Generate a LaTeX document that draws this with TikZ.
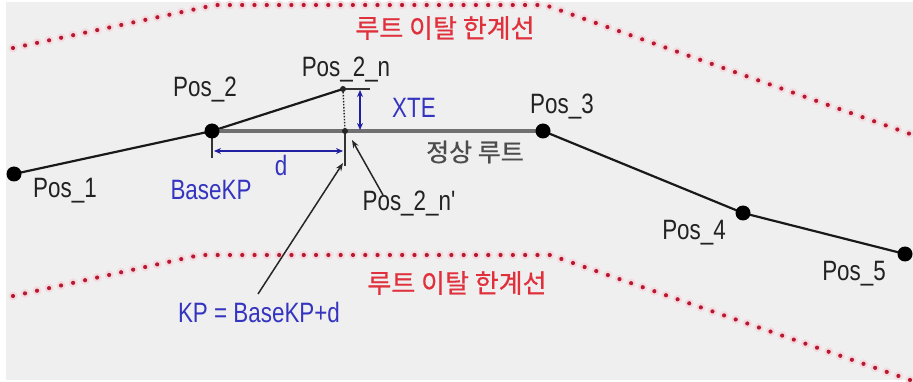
\documentclass[tikz,border=0pt]{standalone}
\usepackage{fontspec}
\newfontfamily\lat{Liberation Sans}[FakeStretch=0.8]
\newfontfamily\kr{Noto Sans CJK KR}[FakeBold=0.6]
\usetikzlibrary{arrows.meta}
\definecolor{bg}{HTML}{EFEFEF}
\definecolor{limred}{HTML}{B81830}
\definecolor{krred}{HTML}{E0303C}
\definecolor{lblue}{HTML}{3434C0}
\definecolor{ablue}{HTML}{2020A0}
\definecolor{txt}{HTML}{222222}
\definecolor{routegray}{HTML}{707070}
\tikzset{
  limitdots/.style={draw=limred, line width=4.2pt, line cap=round, dash pattern=on 0pt off 12.3pt},
  limithalo/.style={draw=limred!16, line width=9pt, line cap=round, dash pattern=on 0pt off 12.3pt},
  posdot/.style={circle, fill=black, inner sep=0pt, minimum size=15pt},
  smalldot/.style={circle, fill=black!85, inner sep=0pt, minimum size=6pt},
  route/.style={draw=black!90, line width=2.2pt},
  mainroute/.style={draw=routegray, line width=4pt},
  tick/.style={draw=black!80, line width=1.6pt},
  bluearrow/.style={draw=ablue, line width=1.5pt, {Stealth[length=7pt,width=6pt]}-{Stealth[length=7pt,width=6pt]}},
  pointer/.style={draw=black!85, line width=1.5pt, -{Stealth[length=8pt,width=6pt]}},
  lab/.style={font=\lat\fontsize{28}{30}\selectfont, text=txt, inner sep=0pt},
  blab/.style={font=\lat\fontsize{28}{30}\selectfont, text=lblue, inner sep=0pt},
  krlab/.style={font=\kr\fontsize{26}{28}\selectfont, text=krred, inner sep=0pt},
  krgray/.style={font=\kr\fontsize{25}{27}\selectfont, text=black!70, inner sep=0pt}
}
\begin{document}
\begin{tikzpicture}[x=1pt,y=-1pt]
\useasboundingbox (0,0) rectangle (913,382);
\fill[white] (0,0) rectangle (913,382);
\fill[bg] (6,2) rectangle (913,380);

% route deviation limits
\draw[limithalo] (13,48) -- (215,5) -- (545,5) -- (913,135);
\draw[limitdots] (13,48) -- (215,5) -- (545,5) -- (913,135);
\draw[limithalo] (13,296) -- (200,255) -- (550,255) -- (913,381);
\draw[limitdots] (13,296) -- (200,255) -- (550,255) -- (913,381);

% coordinates
\coordinate (c1) at (14,174);
\coordinate (c2) at (212,131);
\coordinate (c3) at (543,131);
\coordinate (c4) at (743,213);
\coordinate (c5) at (905,254);
\coordinate (cn) at (343,89);
\coordinate (cnp) at (345,131);
\coordinate (xteEnd) at (370,89);
\coordinate (tick2) at (212,158);
\coordinate (tickn) at (345,166);
\coordinate (dL) at (214,151);
\coordinate (dR) at (343,151);
\coordinate (xT) at (360,90);
\coordinate (xB) at (360,130);
\coordinate (kpTip) at (343,163);
\coordinate (npTip) at (352,140);
\coordinate (kpStart) at (258,294);
\coordinate (npStart) at (383,195);

% lines
\draw[route] (c1) -- (c2);
\draw[route] (c2) -- (cn);
\draw[mainroute] (c2) -- (c3);
\draw[route] (c3) -- (c4) -- (c5);
\draw[tick] (cn) -- (xteEnd);
\draw[draw=black!85, line width=1.4pt, dash pattern=on 1.5pt off 1.5pt] (cn) -- (cnp);
\draw[tick] (cnp) -- (tickn);
\draw[tick] (c2) -- (tick2);
\draw[bluearrow] (dL) -- (dR);
\draw[bluearrow] (xT) -- (xB);

% dots
\node[posdot] (p1) at (c1) {};
\node[posdot] (p2) at (c2) {};
\node[posdot] (p3) at (c3) {};
\node[posdot] (p4) at (c4) {};
\node[posdot] (p5) at (c5) {};
\node[smalldot] (pn) at (cn) {};
\node[smalldot] (pnp) at (cnp) {};

% labels
\node[lab] (l1) at (65,191) {Pos\_1};
\node[lab] (l2) at (205,90) {Pos\_2};
\node[lab] (ln) at (346,70) {Pos\_2\_n};
\node[lab] (l3) at (562,107) {Pos\_3};
\node[lab] (l4) at (694,233) {Pos\_4};
\node[lab] (l5) at (854,274) {Pos\_5};
\node[lab] (lnp) at (409,204) {Pos\_2\_n'};
\node[blab] (lxte) at (414,108) {XTE};
\node[blab] (ld) at (281,165) {d};
\node[blab] (lbase) at (211,190) {BaseKP};
\node[blab] (lkp) at (259,312) {KP = BaseKP+d};
\node[krgray] (lroute) at (475,152) {정상 루트};
\node[krlab] (lup) at (445,28) {루트 이탈 한계선};
\node[krlab] (ldown) at (457,283) {루트 이탈 한계선};

% pointers
\draw[pointer] (kpStart) -- (kpTip);
\draw[pointer] (npStart) -- (npTip);
\end{tikzpicture}
\end{document}
